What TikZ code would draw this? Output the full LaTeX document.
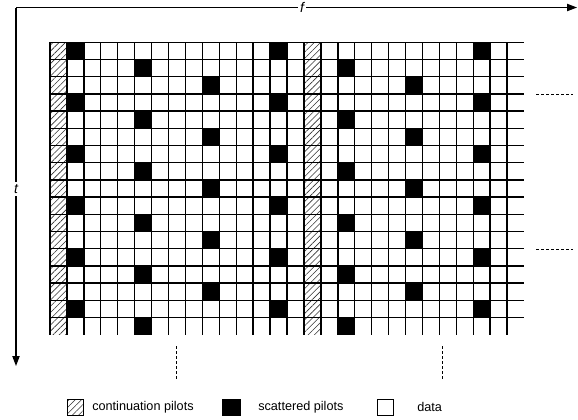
\documentclass[tikz,border=0pt]{standalone}
\usepackage{fontspec}
\setmainfont{Liberation Sans}
\usetikzlibrary{arrows.meta,patterns.meta}

\tikzset{
  gridline/.style={line width=1.05pt},
  hatchcell/.style={pattern={Lines[angle=45,distance=3.3pt,line width=0.45pt]},pattern color=black!80},
  pilotcell/.style={fill=black},
  axisline/.style={line width=0.8pt,-{Triangle[length=7.5pt,width=5.5pt]}},
  cutmark/.style={dash pattern=on 2.2pt off 1.6pt,line width=0.6pt},
  legendbox/.style={draw,line width=0.75pt,minimum width=12pt,minimum height=12pt,inner sep=0pt},
  legendtext/.style={anchor=west,font=\fontsize{9.5}{11}\selectfont,inner sep=0pt},
  axislabel/.style={fill=white,font=\fontsize{10.5}{12}\selectfont\itshape,inner sep=1.5pt},
}

\begin{document}
\begin{tikzpicture}[x=0.75pt,y=-0.75pt]
    \useasboundingbox (0,0) rectangle (578,419);
    \def\cw{16.93}
    \def\ch{17.2}

    % continuation pilots
    \foreach \c in {0,15}
        \path[hatchcell] (50+\c*\cw,42.3) rectangle ++(\cw,17*\ch);

    % scattered pilots
    \foreach \r in {0,...,16}{
        \pgfmathtruncatemacro\s{1+4*mod(\r,3)}
        \foreach \k in {0,1,2}{
            \pgfmathtruncatemacro\c{\s+12*\k}
            \ifnum\c<28
                \fill[pilotcell] (50+\c*\cw,42.3+\r*\ch) rectangle ++(\cw,\ch);
            \fi
        }
    }

    % grid
    \foreach \r in {0,...,16}
        \draw[gridline] (50,42.3+\r*\ch) -- ++(28*\cw,0);
    \foreach \c in {0,...,27}
        \draw[gridline] (50+\c*\cw,42.3) -- ++(0,17*\ch);

    % axes
    \coordinate (corner) at (16,7.5);
    \coordinate (fend) at (577,7.5);
    \coordinate (tend) at (16,366);
    \draw[axisline] (corner) -- (fend);
    \draw[axisline] (corner) -- (tend);
    \node[axislabel] (flabel) at (302,7.5) {f};
    \node[axislabel] (tlabel) at (16,189) {t};

    % continuation marks
    \foreach \x in {176,442}
        \draw[cutmark] (\x,346) -- (\x,381);
    \foreach \y in {94.3,249}
        \draw[cutmark] (536,\y) -- (573,\y);

    % legend
    \node[legendbox,hatchcell] (legcont) at (75.5,407) {};
    \node[legendtext] (legconttext) at (92,407) {continuation pilots};
    \node[legendbox,fill=black,minimum width=13.5pt] (legscat) at (231,407) {};
    \node[legendtext] (legscattext) at (258,407) {scattered pilots};
    \node[legendbox] (legdata) at (385,407) {};
    \node[legendtext] (legdatatext) at (417,407) {data};
\end{tikzpicture}
\end{document}
